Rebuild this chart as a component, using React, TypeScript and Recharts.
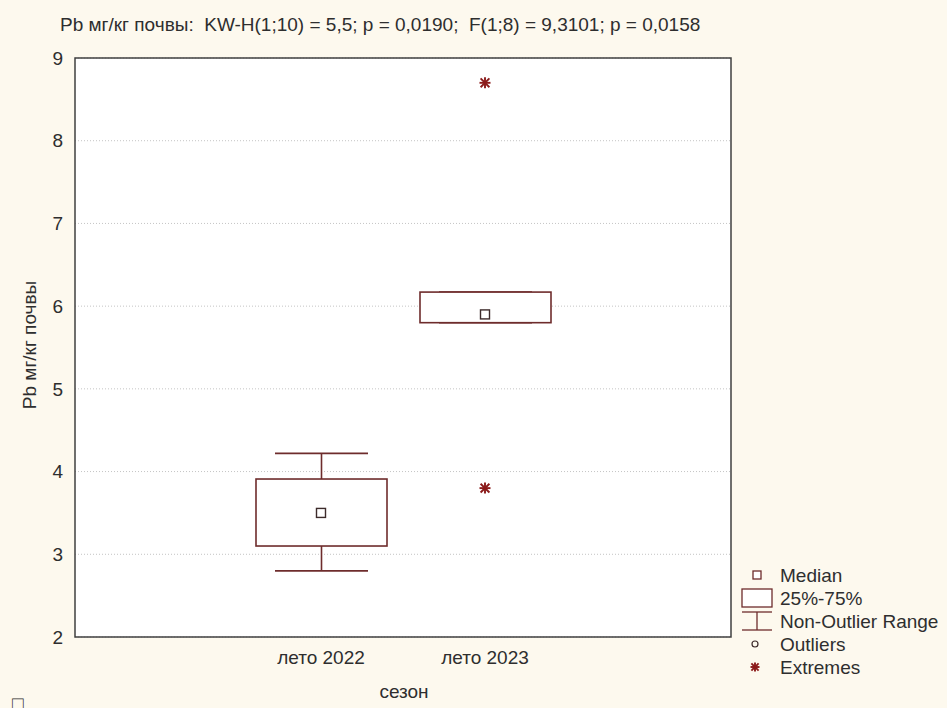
import React from 'react';
import { ComposedChart, Bar, Scatter, XAxis, YAxis, CartesianGrid, ReferenceArea } from 'recharts';

// ---- data ----
const categories = ['', 'лето 2022', 'лето 2023', ''];
const q1 = [null, 3.1, 5.8, null];
const q3 = [null, 3.91, 6.17, null];
const medians = [null, 3.5, 5.9, null];
const whiskerLow = [null, 2.8, 5.8, null];
const whiskerHigh = [null, 4.22, 6.17, null];
const extremesHigh = [null, null, 8.7, null];
const extremesLow = [null, null, 3.8, null];
const yTicks = [2, 3, 4, 5, 6, 7, 8, 9];

const titleText = 'Pb мг/кг почвы:  KW-H(1;10) = 5,5; p = 0,0190;  F(1;8) = 9,3101; p = 0,0158';
const yLabel = 'Pb мг/кг почвы';
const xLabel = 'сезон';
const legendItems = ['Median', '25%-75%', 'Non-Outlier Range', 'Outliers', 'Extremes'];

const data = categories.map((c, i) => ({
  slot: i,
  box: q1[i] == null ? null : [q1[i], q3[i]],
  whisker: whiskerLow[i] == null ? null : [whiskerLow[i], whiskerHigh[i]],
  median: medians[i],
  extHigh: extremesHigh[i],
  extLow: extremesLow[i],
}));

const FONT = '"Liberation Sans", Arial, sans-serif';
const BOX = '#6e2c2c';
const MED = '#3d2b2b';
const EXT = '#8b1a1a';
const TXT = '#2e2e2e';
const BG = '#fdf9ee';

const ok = (...v: any[]) => v.every((n) => typeof n === 'number' && Number.isFinite(n));

const WhiskerShape = (props: any) => {
  const { x, y, width, height } = props;
  if (!ok(x, y, width, height)) return <g />;
  const top = Math.min(y, y + height);
  const bot = Math.max(y, y + height);
  const cx = x + width / 2;
  return (
    <g stroke={BOX} strokeWidth={1.6}>
      <line x1={cx} x2={cx} y1={top} y2={bot} />
      <line x1={x} x2={x + width} y1={top} y2={top} />
      <line x1={x} x2={x + width} y1={bot} y2={bot} />
    </g>
  );
};

const BoxShape = (props: any) => {
  const { x, y, width, height } = props;
  if (!ok(x, y, width, height)) return <g />;
  const top = Math.min(y, y + height);
  return <rect x={x} y={top} width={width} height={Math.abs(height)} fill="#fff" stroke={BOX} strokeWidth={1.6} />;
};

const MedianShape = (props: any) => {
  const { cx, cy } = props;
  if (!ok(cx, cy)) return <g />;
  return <rect x={cx - 4.5} y={cy - 4.5} width={9} height={9} fill="#fff" stroke={MED} strokeWidth={1.4} />;
};

const Star = ({ cx, cy, r = 5.5, color = EXT }: any) => (
  <g stroke={color} strokeWidth={1.9}>
    <line x1={cx - r} x2={cx + r} y1={cy} y2={cy} />
    <line x1={cx} x2={cx} y1={cy - r} y2={cy + r} />
    <line x1={cx - r * 0.8} x2={cx + r * 0.8} y1={cy - r * 0.8} y2={cy + r * 0.8} />
    <line x1={cx - r * 0.8} x2={cx + r * 0.8} y1={cy + r * 0.8} y2={cy - r * 0.8} />
  </g>
);

const ExtremeShape = (props: any) => {
  const { cx, cy } = props;
  if (!ok(cx, cy)) return <g />;
  return <Star cx={cx} cy={cy} />;
};

const Legend = () => {
  const rowY = [575, 598, 621, 644, 667];
  return (
    <svg width={947} height={708} style={{ position: 'absolute', left: 0, top: 0, pointerEvents: 'none' }}>
      <rect x={753} y={571} width={8} height={8} fill="#fff" stroke={BOX} strokeWidth={1.3} />
      <rect x={742} y={589} width={30} height={18} fill="#fff" stroke={BOX} strokeWidth={1.3} />
      <g stroke={BOX} strokeWidth={1.3}>
        <line x1={742} x2={772} y1={612} y2={612} />
        <line x1={757} x2={757} y1={612} y2={630} />
        <line x1={742} x2={772} y1={630} y2={630} />
      </g>
      <circle cx={755} cy={644} r={3} fill="none" stroke={MED} strokeWidth={1.2} />
      <Star cx={755} cy={667} r={4.5} />
      {legendItems.map((t, i) => (
        <text key={t} x={780} y={rowY[i]} dy="0.35em" fontFamily={FONT} fontSize={19} fill={TXT}>
          {t}
        </text>
      ))}
    </svg>
  );
};

export default function App() {
  return (
    <div style={{ position: 'absolute', left: 0, top: 0, width: 947, height: 708, background: BG, overflow: 'hidden', fontFamily: FONT }}>
      <ComposedChart width={947} height={708} data={data} margin={{ top: 58, right: 216, bottom: 41, left: 15 }}>
        <CartesianGrid vertical={false} stroke="#c4c4c4" strokeDasharray="1 2" fill="#fff" />
        <XAxis
          dataKey="slot"
          type="category"
          height={30}
          axisLine={false}
          tickLine={false}
          tickMargin={8}
          tickFormatter={(v: any) => categories[v]}
          tick={{ fontSize: 19, fill: TXT, fontFamily: FONT }}
        />
        <XAxis xAxisId="w" dataKey="slot" type="category" hide />
        <YAxis
          type="number"
          domain={[2, 9]}
          ticks={yTicks}
          width={60}
          axisLine={false}
          tickLine={false}
          tickMargin={6}
          tick={{ fontSize: 19, fill: TXT, fontFamily: FONT }}
        />
        <ReferenceArea y1={2} y2={9} fill="none" stroke="#404040" strokeWidth={1.5} ifOverflow="visible" />
        <Bar xAxisId="w" dataKey="whisker" barSize={93} shape={WhiskerShape} isAnimationActive={false} />
        <Bar dataKey="box" barSize={131} shape={BoxShape} isAnimationActive={false} />
        <Scatter dataKey="median" shape={MedianShape} isAnimationActive={false} />
        <Scatter dataKey="extHigh" shape={ExtremeShape} isAnimationActive={false} />
        <Scatter dataKey="extLow" shape={ExtremeShape} isAnimationActive={false} />
      </ComposedChart>
      <div style={{ position: 'absolute', left: 60, top: 14, fontSize: 19, color: TXT, whiteSpace: 'pre', lineHeight: '22px' }}>
        {titleText}
      </div>
      <div
        style={{
          position: 'absolute',
          left: 30,
          top: 345,
          fontSize: 19,
          color: TXT,
          whiteSpace: 'pre',
          transform: 'translate(-50%, -50%) rotate(-90deg)',
          lineHeight: '22px',
        }}
      >
        {yLabel}
      </div>
      <div style={{ position: 'absolute', left: 404, top: 692, fontSize: 19, color: TXT, transform: 'translate(-50%, -50%)', lineHeight: '22px' }}>
        {xLabel}
      </div>
      <div style={{ position: 'absolute', left: 12, top: 693, fontSize: 19, color: TXT, lineHeight: '22px' }}>□</div>
      <Legend />
    </div>
  );
}
